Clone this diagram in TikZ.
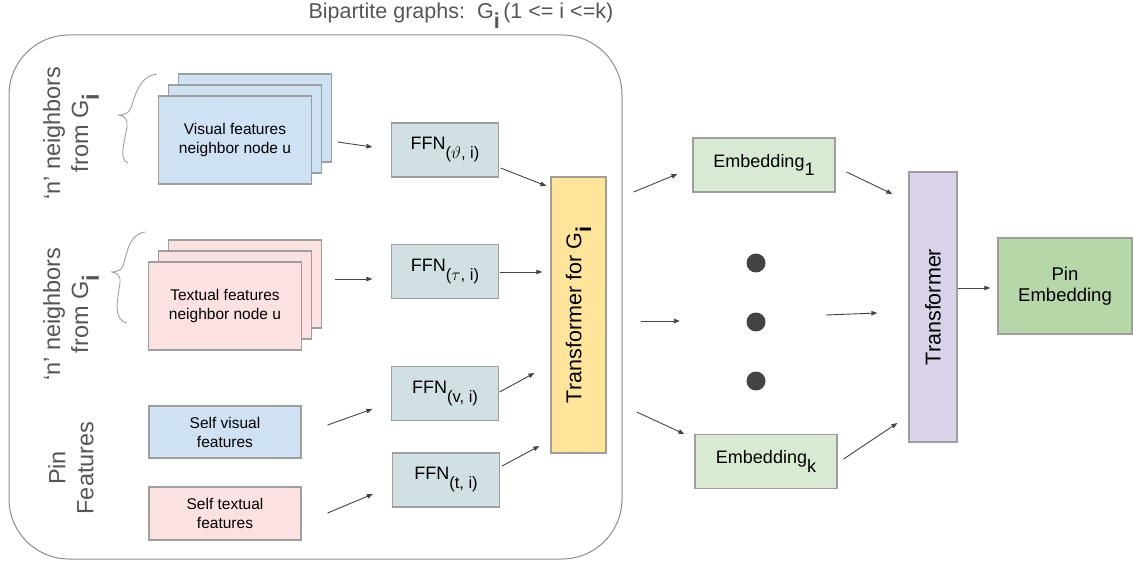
\documentclass[tikz,border=0pt]{standalone}
\usepackage{fontspec}
\setmainfont{Liberation Sans}
\usetikzlibrary{arrows.meta}
\definecolor{bluef}{HTML}{CFE2F3}
\definecolor{pinkf}{HTML}{FCE1E1}
\definecolor{ffnf}{HTML}{D0E0E3}
\definecolor{yelf}{HTML}{FFE599}
\definecolor{embf}{HTML}{D9EAD3}
\definecolor{pinf}{HTML}{B6D7A8}
\definecolor{purf}{HTML}{D9D2E9}
\definecolor{edgec}{HTML}{9E9E9E}
\definecolor{framec}{HTML}{8C8C8C}
\definecolor{arrc}{HTML}{444444}
\definecolor{labc}{HTML}{555555}
\definecolor{dotc}{HTML}{434343}
\newcommand{\fs}[2]{\fontsize{#1}{#2}\selectfont}
\newcommand{\lowsub}[1]{\raisebox{-0.45em}{#1}}
\newcommand{\ffnsub}[1]{\raisebox{-0.5em}{\fs{16.5}{16.5}#1}}
\tikzset{
  box/.style={draw=edgec, line width=1.2pt, inner sep=0pt, align=center, text=black},
  arr/.style={draw=arrc, line width=0.9pt, -{Triangle[length=6pt,width=4.5pt]}},
  sidelab/.style={rotate=90, align=center, text=labc, font=\fs{23.5}{28}},
  bracec/.style={draw=edgec, line width=0.9pt},
  dotn/.style={circle, fill=dotc, minimum size=19pt, inner sep=0pt},
  feat/.style={box, minimum width=153pt, minimum height=88pt, font=\fs{15.5}{19}},
  ffn/.style={box, fill=ffnf, minimum width=107pt, minimum height=54pt, font=\fs{18}{19}},
  emb/.style={box, fill=embf, minimum width=142pt, minimum height=54pt, font=\fs{18}{21}}
}
\begin{document}
\begin{tikzpicture}[x=1pt,y=-1pt]
\useasboundingbox (0,0) rectangle (1133,564);
% frame
\node[draw=framec, line width=1pt, rounded corners=60pt, minimum width=613pt, minimum height=524pt, inner sep=0pt] (frame) at (315.5,297) {};
\node[anchor=base west, text=labc, font=\fs{21.5}{26}] (title) at (305,19) {Bipartite graphs:\ \ G\lowsub{\textbf{i}}\,(1 <= i <=k)};
% side labels
\node[sidelab] (lab1) at (71,133) {‘n’ neighbors\\from G\lowsub{\textbf{i}}};
\node[sidelab] (lab2) at (71,314) {‘n’ neighbors\\from G\lowsub{\textbf{i}}};
\node[sidelab] (lab3) at (71,468) {Pin\\Features};
% braces
\draw[bracec] (157,74) .. controls (138,76) and (134,100) .. (131,108) .. controls (129,113) and (124,115) .. (119,115) .. controls (125,116) and (128,120) .. (127,127) .. controls (125,140) and (118,160) .. (128,163);
\draw[bracec] (145,232) .. controls (128,234) and (126,258) .. (123,266) .. controls (121,270) and (117,272) .. (112,272) .. controls (118,273) and (121,277) .. (120,283) .. controls (118,298) and (112,320) .. (127,323);
% visual stack
\node[feat, fill=bluef] (vis3) at (255,118) {};
\node[feat, fill=bluef] (vis2) at (245,129) {};
\node[feat, fill=bluef] (vis1) at (235,140) {Visual features\\neighbor node u};
% textual stack
\node[feat, fill=pinkf] (txt3) at (245,284) {};
\node[feat, fill=pinkf] (txt2) at (235,295) {};
\node[feat, fill=pinkf] (txt1) at (225,306) {Textual features\\neighbor node u};
% self features
\node[box, fill=bluef, minimum width=152pt, minimum height=52pt, font=\fs{15.5}{19}] (sv) at (225,432) {Self visual\\features};
\node[box, fill=pinkf, minimum width=152pt, minimum height=53pt, font=\fs{15.5}{19}] (st) at (225,513.5) {Self textual\\features};
% FFNs
\node[ffn] (ffn1) at (445,150) {FFN\ffnsub{(\(\vartheta\), i)}};
\node[ffn] (ffn2) at (445,271.5) {FFN\ffnsub{(\(\tau\), i)}};
\node[ffn] (ffn3) at (445,393.5) {FFN\ffnsub{(v, i)}};
\node[ffn] (ffn4) at (446,480) {FFN\ffnsub{(t, i)}};
% transformer for Gi
\node[box, fill=yelf, minimum width=55pt, minimum height=276pt] (tg) at (578.5,315) {};
\node[rotate=90, font=\fs{21.5}{26}] (tgl) at (tg.center) {Transformer for G\lowsub{\textbf{i}}};
% embeddings
\node[emb] (e1) at (764,165) {Embedding\lowsub{1}};
\node[emb] (ek) at (766,461.5) {Embedding\lowsub{k}};
\node[dotn] (d1) at (756,263) {};
\node[dotn] (d2) at (756,322) {};
\node[dotn] (d3) at (756,381) {};
% transformer
\node[box, fill=purf, minimum width=48pt, minimum height=270pt] (tr) at (933,307) {};
\node[rotate=90, font=\fs{21.5}{26}] (trl) at (tr.center) {Transformer};
\node[box, fill=pinf, minimum width=134pt, minimum height=96pt, font=\fs{18.5}{21}] (pe) at (1065,286) {Pin\\Embedding};
% arrows
\draw[arr] ([xshift=25.5pt,yshift=-2pt]vis1.east) -- ([xshift=-18.5pt,yshift=3pt]ffn1.west);
\draw[arr] ([xshift=1.5pt,yshift=-18pt]ffn1.east) -- ([xshift=-4pt,yshift=129pt]tg.west);
\draw[arr] ([xshift=33pt,yshift=27pt]txt1.east) -- ([xshift=-18.5pt,yshift=-7.5pt]ffn2.west);
\draw[arr] ([xshift=0.5pt,yshift=-0.5pt]ffn2.east) -- ([xshift=-8pt,yshift=43pt]tg.west);
\draw[arr] ([xshift=26pt,yshift=7pt]sv.east) -- ([xshift=-18.5pt,yshift=-15.5pt]ffn3.west);
\draw[arr] ([xshift=0.5pt,yshift=1.5pt]ffn3.east) -- ([xshift=-16pt,yshift=-58pt]tg.west);
\draw[arr] ([xshift=26pt,yshift=0.5pt]st.east) -- ([xshift=-19pt,yshift=-14pt]ffn4.west);
\draw[arr] ([xshift=2pt,yshift=14pt]ffn4.east) -- ([xshift=-11pt,yshift=-131pt]tg.west);
\draw[arr] ([xshift=27pt,yshift=123pt]tg.east) -- ([xshift=-15pt,yshift=-9pt]e1.west);
\draw[arr] ([xshift=34pt,yshift=-6pt]tg.east) -- ([xshift=-66.5pt,yshift=1pt]d2.west);
\draw[arr] ([xshift=30pt,yshift=-97pt]tg.east) -- ([xshift=-10pt,yshift=27.5pt]ek.west);
\draw[arr] ([xshift=11pt,yshift=-7pt]e1.east) -- ([xshift=-16pt,yshift=113pt]tr.west);
\draw[arr] ([xshift=60.5pt,yshift=7pt]d2.east) -- ([xshift=-31pt,yshift=-6pt]tr.west);
\draw[arr] ([xshift=6pt,yshift=2.5pt]ek.east) -- ([xshift=-11pt,yshift=-116pt]tr.west);
\draw[arr] ([xshift=0pt,yshift=19pt]tr.east) -- ([xshift=-7pt,yshift=-2pt]pe.west);
\end{tikzpicture}
\end{document}
